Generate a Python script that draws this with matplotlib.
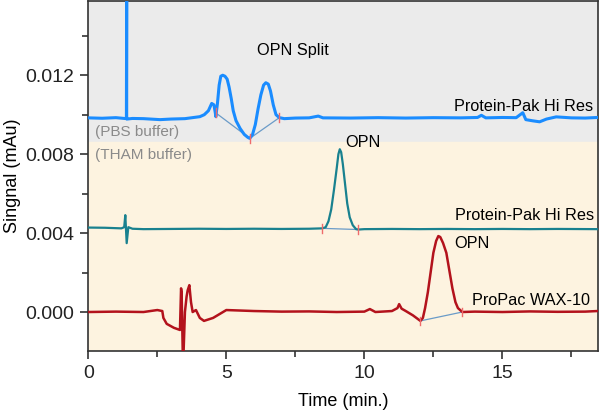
import matplotlib.pyplot as plt
from matplotlib.ticker import MultipleLocator

plt.rcParams['font.family'] = ['Liberation Sans', 'DejaVu Sans']

# blue trace (PBS buffer, Protein-Pak Hi Res)
blue_t = [0.0, 0.5, 1.0, 1.38, 1.39, 1.39, 1.40, 1.6, 2.0, 2.6, 3.0, 3.5, 4.04, 4.2, 4.35, 4.47,
          4.55, 4.6, 4.62, 4.68, 4.74, 4.8, 4.87, 4.95, 5.03, 5.1, 5.18, 5.25, 5.35, 5.5, 5.65,
          5.78, 5.85, 5.95, 6.05, 6.15, 6.25, 6.35, 6.43, 6.52, 6.6, 6.7, 6.8, 6.92, 7.1, 7.5,
          8.0, 8.33, 8.5, 9.5, 10.5, 11.5, 12.5, 13.5, 14.1, 14.24, 14.4, 15.0, 15.5, 15.74,
          15.85, 16.1, 16.35, 16.6, 16.95, 17.5, 18.0, 18.45]
blue_y = [0.00984, 0.00982, 0.00985, 0.00980, 0.0165, 0.0098, 0.00978, 0.00981, 0.00980, 0.00975,
          0.00978, 0.00980, 0.00990, 0.01000, 0.01020, 0.01057, 0.01050, 0.01010, 0.00990, 0.01060,
          0.01150, 0.01195, 0.01200, 0.01195, 0.01180, 0.01140, 0.01080, 0.01020, 0.00970, 0.00930,
          0.00900, 0.00885, 0.00880, 0.00900, 0.00950, 0.01030, 0.01100, 0.01150, 0.01162, 0.01155,
          0.01120, 0.01050, 0.01000, 0.00985, 0.00980, 0.00983, 0.00984, 0.00993, 0.00984, 0.00983,
          0.00985, 0.00983, 0.00985, 0.00984, 0.00986, 0.00997, 0.00984, 0.00986, 0.00985, 0.01010,
          0.00975, 0.00969, 0.00964, 0.00978, 0.00989, 0.00984, 0.00983, 0.00986]

# teal trace (THAM buffer, Protein-Pak Hi Res)
teal_t = [0.0, 0.6, 1.2, 1.3, 1.34, 1.39, 1.45, 1.6, 2.0, 3.0, 4.0, 5.0, 6.0, 7.0, 8.0, 8.48,
          8.6, 8.7, 8.8, 8.9, 9.0, 9.06, 9.11, 9.16, 9.22, 9.3, 9.38, 9.47, 9.58, 9.7, 9.78,
          10.0, 11.0, 12.0, 13.0, 14.0, 15.0, 16.0, 17.0, 18.45]
teal_y = [0.00428, 0.00427, 0.00424, 0.00430, 0.00491, 0.00349, 0.00430, 0.00422, 0.00420, 0.00421,
          0.00422, 0.00421, 0.00422, 0.00421, 0.00422, 0.00424, 0.00430, 0.00460, 0.00520, 0.00620,
          0.00730, 0.00800, 0.00825, 0.00810, 0.00750, 0.00650, 0.00550, 0.00480, 0.00440, 0.00420,
          0.00418, 0.00420, 0.00421, 0.00420, 0.00421, 0.00420, 0.00421, 0.00420, 0.00421, 0.00420]

# red trace (THAM buffer, ProPac WAX-10)
red_t = [0.0, 1.0, 2.0, 2.5, 2.68, 2.72, 2.84, 3.1, 3.32, 3.36, 3.38, 3.42, 3.44, 3.5, 3.56,
         3.6, 3.66, 3.72, 3.78, 3.9, 4.04, 4.19, 4.52, 5.0, 6.0, 7.0, 8.0, 9.0, 10.0, 10.2,
         10.4, 11.0, 11.2, 11.26, 11.35, 11.5, 11.76, 12.03, 12.12, 12.2, 12.3, 12.4, 12.5,
         12.6, 12.68, 12.75, 12.85, 12.97, 13.08, 13.19, 13.3, 13.39, 13.55, 14.0, 15.0, 16.0,
         17.0, 18.0, 18.45]
red_y = [0.00000, 0.00002, 0.00000, 0.00010, 0.00005, -0.00030, -0.00060, -0.00080, -0.00091, 0.00120,
         0.00100, -0.00200, -0.00250, 0.00000, 0.00078, 0.00110, 0.00136, 0.00050, 0.00000, 0.00010,
         -0.00030, -0.00045, -0.00030, 0.00010, 0.00005, 0.00002, 0.00003, 0.00000, 0.00002, 0.00015,
         0.00000, 0.00005, 0.00020, 0.00040, 0.00017, 0.00005, -0.00017, -0.00045, -0.00030, 0.00020,
         0.00100, 0.00200, 0.00300, 0.00360, 0.00385, 0.00380, 0.00350, 0.00300, 0.00210, 0.00120,
         0.00050, 0.00020, 0.00000, 0.00002, 0.00000, 0.00003, 0.00001, 0.00002, 0.00005]

# integration markers (time, signal)
blue_marks = [(4.61, 0.01010), (5.85, 0.00880), (6.92, 0.00985)]
teal_marks = [(8.48, 0.00424), (9.78, 0.00418)]
red_marks = [(12.03, -0.00045), (13.55, 0.00000)]

buffer_split = 0.0086

fig = plt.figure(figsize=(6.02, 4.16), dpi=100)
ax = fig.add_axes([0.1467, 0.157, 0.846, 0.840])

ymin, ymax = -0.00196, 0.01575
ax.axhspan(buffer_split, ymax, color='#ebebeb', zorder=0)
ax.axhspan(ymin, buffer_split, color='#fdf3e0', zorder=0)

for marks in (blue_marks, teal_marks, red_marks):
    mt = [m[0] for m in marks]
    my = [m[1] for m in marks]
    ax.plot(mt, my, color='#6a9bc8', lw=0.9, zorder=2)

ax.plot(blue_t, blue_y, color='#1a8cff', lw=2.2, zorder=3, solid_joinstyle='round')
ax.plot(teal_t, teal_y, color='#19818f', lw=1.6, zorder=3, solid_joinstyle='round')
ax.plot(red_t, red_y, color='#b3121c', lw=1.8, zorder=3, solid_joinstyle='round')

for marks in (blue_marks, teal_marks, red_marks):
    for t, v in marks:
        ax.plot([t, t], [v - 0.00022, v + 0.00022], color='#ef6b6b', lw=1.0, zorder=4)

fs = 11.7
ax.text(7.41, 0.01327, 'OPN Split', fontsize=fs, ha='center', va='center')
ax.text(18.28, 0.01043, 'Protein-Pak Hi Res', fontsize=fs, ha='right', va='center')
ax.text(0.24, 0.00913, '(PBS buffer)', fontsize=11, color='#8a8a8a', ha='left', va='center')
ax.text(0.24, 0.00798, '(THAM buffer)', fontsize=11, color='#8a8a8a', ha='left', va='center')
ax.text(9.29, 0.00857, 'OPN', fontsize=fs, ha='left', va='center')
ax.text(18.34, 0.00491, 'Protein-Pak Hi Res', fontsize=fs, ha='right', va='center')
ax.text(13.27, 0.00348, 'OPN', fontsize=fs, ha='left', va='center')
ax.text(18.16, 0.00060, 'ProPac WAX-10', fontsize=fs, ha='right', va='center')

ax.set_xlim(0, 18.45)
ax.set_ylim(ymin, ymax)
ax.xaxis.set_major_locator(MultipleLocator(5))
ax.xaxis.set_minor_locator(MultipleLocator(2.5))
ax.yaxis.set_major_locator(MultipleLocator(0.004))
ax.yaxis.set_minor_locator(MultipleLocator(0.002))
ax.yaxis.set_major_formatter(lambda v, p: f'{v:.3f}')
ax.tick_params(which='major', length=6, width=1.2, labelsize=14, colors='#333333', pad=4)
ax.tick_params(which='minor', length=4, width=1.2, colors='#333333')
ax.tick_params(labelcolor='#222222')
for s in ax.spines.values():
    s.set_color('#333333')
    s.set_linewidth(1.2)

ax.set_xlabel('Time (min.)', fontsize=13, labelpad=8)
ax.set_ylabel('Singnal (mAu)', fontsize=13, labelpad=3)

fig.savefig('out.png', dpi=100)
